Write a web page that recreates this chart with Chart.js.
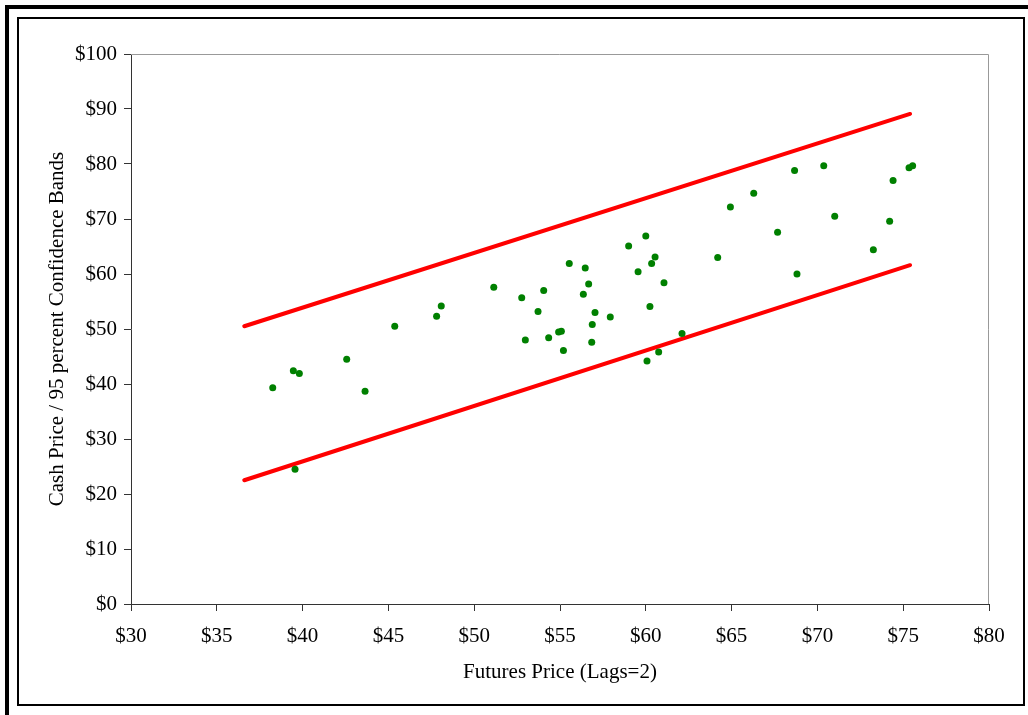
<!DOCTYPE html>
<html>
<head>
<meta charset="utf-8">
<script src="https://cdn.jsdelivr.net/npm/chart.js@4/dist/chart.umd.min.js"></script>
<style>
  html, body { margin: 0; padding: 0; background: #fff; }
  #wrap { position: relative; width: 1028px; height: 715px; overflow: hidden; }
  #c { position: absolute; left: 0; top: 0; }
  .b { position: absolute; background: #000; }
  #inner { position: absolute; left: 17px; top: 17px; width: 1008px; height: 689px; border: 2px solid #000; box-sizing: border-box; }
</style>
</head>
<body>
<div id="wrap">
  <canvas id="c" width="1028" height="715"></canvas>
  <div class="b" style="left:5px;top:5px;width:1023px;height:4px;"></div>
  <div class="b" style="left:5px;top:5px;width:4px;height:710px;"></div>
  <div id="inner"></div>
</div>
<script>
// Observed points: futures price (lags=2) vs cash price
const futures = [38.26, 39.46, 39.81, 39.56, 42.57, 43.64, 45.37, 47.81, 48.08,
  51.14, 52.77, 54.05, 53.72, 52.98, 54.34, 54.92, 55.08, 55.20, 55.54, 56.47,
  56.67, 56.36, 57.04, 56.88, 56.85, 57.93, 59.55, 60.34, 60.54, 61.06, 60.24,
  62.11, 60.75, 60.07, 59.00, 60.00,
  64.19, 64.93, 66.29, 67.68, 68.67, 68.81, 70.37, 71.01, 73.26, 74.21, 74.41, 75.34, 75.55];
const cash = [39.3, 42.4, 41.9, 24.5, 44.5, 38.7, 50.5, 52.3, 54.2,
  57.6, 55.7, 57.0, 53.2, 48.0, 48.4, 49.45, 49.6, 46.1, 61.9, 61.1,
  58.2, 56.3, 53.0, 50.8, 47.6, 52.2, 60.4, 61.9, 63.1, 58.4, 54.1,
  49.2, 45.8, 44.2, 65.1, 66.9,
  63.0, 72.2, 74.7, 67.6, 78.8, 60.0, 79.7, 70.5, 64.4, 69.6, 77.0, 79.3, 79.7];
// 95 percent confidence bands (end points)
const bandX = [36.6, 75.4];
const upperBand = [50.5, 89.1];
const lowerBand = [22.5, 61.6];
// Axis ticks
const xTicks = [30, 35, 40, 45, 50, 55, 60, 65, 70, 75, 80];
const yTicks = [0, 10, 20, 30, 40, 50, 60, 70, 80, 90, 100];

const FONT = "'Liberation Serif', 'Times New Roman', serif";
const pts = futures.map((x, i) => ({ x: x, y: cash[i] }));
const up = bandX.map((x, i) => ({ x: x, y: upperBand[i] }));
const lo = bandX.map((x, i) => ({ x: x, y: lowerBand[i] }));

const frame = {
  id: 'frame',
  beforeDatasetsDraw(chart) {
    const { ctx, chartArea: a } = chart;
    ctx.save();
    ctx.strokeStyle = '#999999';
    ctx.lineWidth = 1;
    ctx.beginPath();
    ctx.moveTo(a.left, a.top + 0.5);
    ctx.lineTo(a.right - 0.5, a.top + 0.5);
    ctx.lineTo(a.right - 0.5, a.bottom);
    ctx.stroke();
    ctx.restore();
  }
};

new Chart(document.getElementById('c'), {
  type: 'scatter',
  data: {
    datasets: [
      { label: 'Cash', data: pts, backgroundColor: '#008000', borderColor: '#008000',
        pointRadius: 3.5, pointHoverRadius: 3.5, borderWidth: 0, order: 0 },
      { label: 'Upper', data: up, showLine: true, borderColor: '#ff0000', borderWidth: 4,
        borderCapStyle: 'round', pointRadius: 0, order: 1 },
      { label: 'Lower', data: lo, showLine: true, borderColor: '#ff0000', borderWidth: 4,
        borderCapStyle: 'round', pointRadius: 0, order: 1 }
    ]
  },
  options: {
    responsive: false,
    animation: false,
    devicePixelRatio: 1,
    layout: { padding: { top: 54, right: 39, bottom: 0, left: 0 } },
    plugins: { legend: { display: false }, tooltip: { enabled: false } },
    scales: {
      x: {
        type: 'linear', min: 30, max: 80,
        afterFit: s => { s.height = 111; },
        afterBuildTicks: s => { s.ticks = xTicks.map(v => ({ value: v })); },
        grid: { display: true, drawOnChartArea: false, drawTicks: true, tickLength: 7, color: '#333333' },
        border: { display: true, color: '#333333', width: 1 },
        ticks: { color: '#000', padding: 13, maxRotation: 0, font: { family: FONT, size: 21 },
                 callback: v => '$' + v },
        title: { display: true, text: 'Futures Price (Lags=2)', color: '#000',
                 font: { family: FONT, size: 21 }, padding: { top: 0, bottom: 30 } }
      },
      y: {
        type: 'linear', min: 0, max: 100,
        afterFit: s => { s.width = 131; },
        afterBuildTicks: s => { s.ticks = yTicks.map(v => ({ value: v })); },
        grid: { display: true, drawOnChartArea: false, drawTicks: true, tickLength: 7, color: '#333333' },
        border: { display: true, color: '#333333', width: 1 },
        ticks: { color: '#000', padding: 7, font: { family: FONT, size: 21 },
                 callback: v => '$' + v },
        title: { display: true, text: 'Cash Price / 95 percent Confidence Bands', color: '#000',
                 font: { family: FONT, size: 21 }, padding: { top: 45, bottom: 0 } }
      }
    }
  },
  plugins: [frame]
});
</script>
</body>
</html>
